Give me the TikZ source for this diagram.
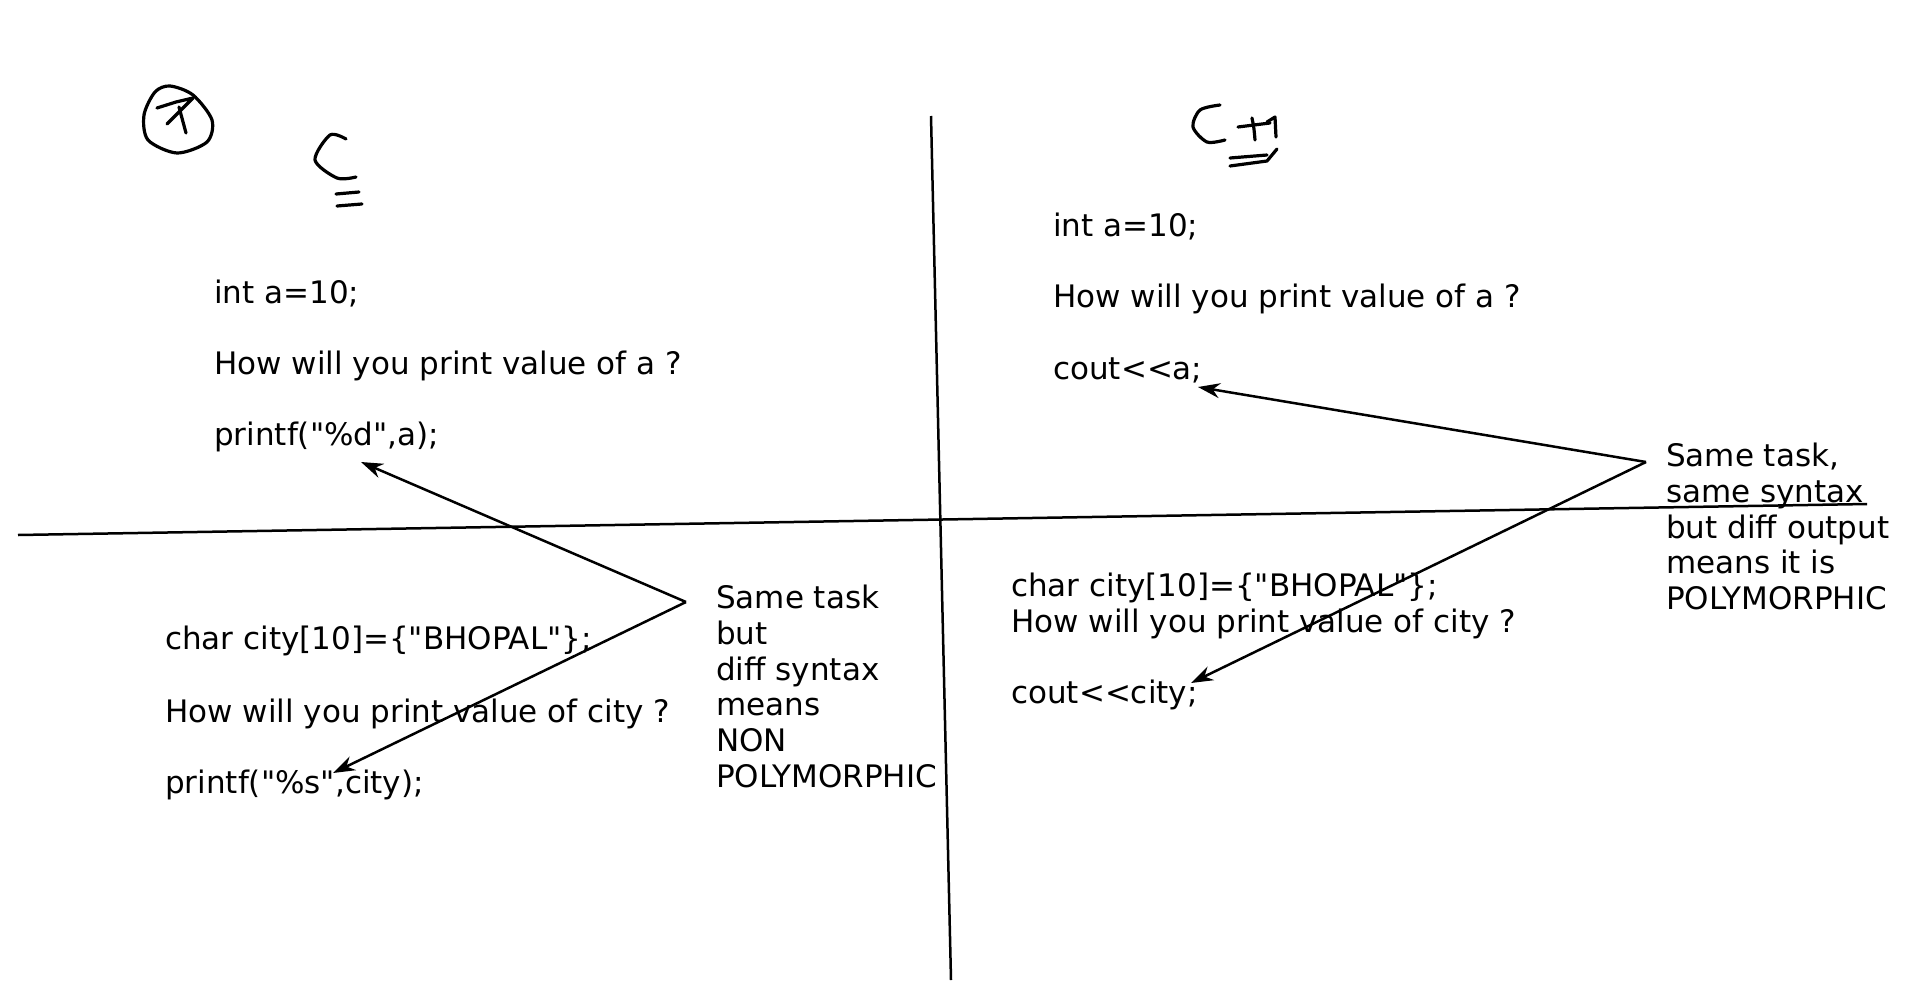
\documentclass[tikz,border=0pt]{standalone}
\usepackage{fontspec}
\setmainfont{DejaVu Sans}[Ligatures=TeXOff]
\usetikzlibrary{arrows.meta}
\newcommand\dq{\char34\relax}
\tikzset{
  code/.style={anchor=base west, inner sep=0pt, font=\fontsize{31}{36}\selectfont},
  note/.style={anchor=north west, inner sep=0pt, align=left, font=\fontsize{31}{35.7}\selectfont},
  pointer/.style={-{Stealth[length=22pt,width=15pt]}, line width=2.5pt},
  ink/.style={line width=3.2pt, line cap=round, line join=round},
  divider/.style={line width=2.5pt}
}
\begin{document}
\begin{tikzpicture}[x=1pt,y=-1pt]
\useasboundingbox (0,0) rectangle (1920,991);
% dividers
\draw[divider] (931,116) -- (951,980);
\draw[divider] (18,535) -- (1867,504);
% handwritten marks
\draw[ink] plot[smooth cycle] coordinates {(170,86) (193,95) (212,120) (207,142) (177,153) (148,140) (144,115) (155,92)};
\draw[ink] (157,108) -- (176,102) -- (193,98) -- (167,124);
\draw[ink] (179,107) -- (186,133);
\draw[ink] plot[smooth] coordinates {(346,139) (330,135) (315,160) (337,178) (356,177)};
\draw[ink] (336,194) -- (359,192);
\draw[ink] (337,206) -- (362,204);
\draw[ink] plot[smooth] coordinates {(1220,105) (1200,110) (1193,127) (1207,142) (1225,140)};
\draw[ink] (1238,127) -- (1270,123);
\draw[ink] (1252,118) .. controls (1254,128) .. (1255,140);
\draw[ink] (1267,122) -- (1275,117) -- (1276,137);
\draw[ink] (1230,158) -- (1267,155);
\draw[ink] (1230,166) -- (1267,161) -- (1277,149);
% C side
\node[code] (inta) at (214,303) {int a=10;};
\node[code] (howa) at (214,374) {How will you print value of a ?};
\node[code] (pfd) at (214,445) {printf(\dq\%d\dq,a);};
\node[code] (charl) at (165,649) {char city[10]=\{\dq BHOPAL\dq\};};
\node[code] (howcl) at (165,722) {How will you print value of city ?};
\node[code] (pfs) at (165,793) {printf(\dq\%s\dq,city);};
\node[note] (nonpoly) at (716,585) {Same task\\but\\diff syntax\\means\\NON\\POLYMORPHIC};
% C++ side
\node[code] (intb) at (1053,236) {int a=10;};
\node[code] (howb) at (1053,307) {How will you print value of a ?};
\node[code] (couta) at (1053,379) {cout<{}<a;};
\node[code] (charr) at (1011,596) {char city[10]=\{\dq BHOPAL\dq\};};
\node[code] (howcr) at (1011,632) {How will you print value of city ?};
\node[code] (coutc) at (1011,703) {cout<{}<city;};
\node[note] (poly) at (1666,443) {Same task,\\same syntax\\but diff output\\means it is\\POLYMORPHIC};
% pointers
\coordinate (taill) at (686,602);
\coordinate (tailr) at (1646,462);
\coordinate (tipd) at (361,462);
\coordinate (tips) at (333,773);
\coordinate (tipa) at (1198,387);
\coordinate (tipc) at (1191,683);
\draw[pointer] (taill) -- (tipd);
\draw[pointer] (taill) -- (tips);
\draw[pointer] (tailr) -- (tipa);
\draw[pointer] (tailr) -- (tipc);
\end{tikzpicture}
\end{document}
